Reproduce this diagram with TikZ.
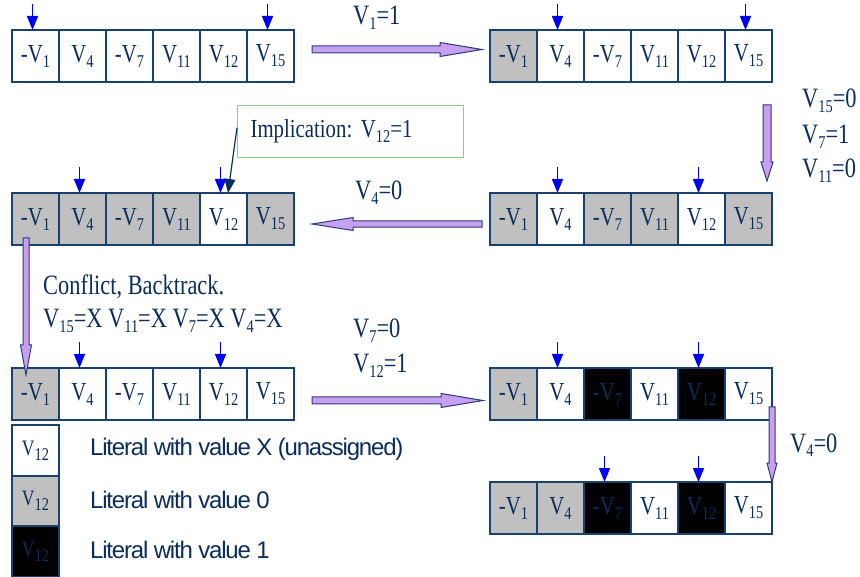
\documentclass[tikz,border=0pt]{standalone}
\usepackage{fontspec}
\setmainfont{Liberation Serif}[FakeStretch=0.8]
\newfontfamily\legendfont{Liberation Sans}[LetterSpace=-5]
\usetikzlibrary{arrows.meta,calc}

\definecolor{ink}{HTML}{0B2D5B}
\definecolor{edge}{HTML}{1A416E}
\definecolor{cellgray}{HTML}{C0C0C0}
\definecolor{cellblack}{HTML}{000000}
\definecolor{cellwhite}{HTML}{FFFFFF}
\definecolor{lavender}{HTML}{C8A0F2}
\definecolor{fatedge}{HTML}{2C3C7C}
\definecolor{pointblue}{HTML}{0000F0}
\definecolor{boxgreen}{HTML}{8CCB8C}

% literal with a lowered index
\newcommand\sbs[1]{\raisebox{-5pt}{\fontsize{18}{18}\selectfont #1}}
\newcommand\lit[1]{V\sbs{#1}}
\newcommand\cellname[1]{\ifcase#1\or -\lit{1}\or \lit{4}\or -\lit{7}\or \lit{11}\or \lit{12}\or \lit{15}\fi}

\tikzset{
  cellbox/.style={draw=edge, line width=1.2pt, minimum width=47pt, minimum height=52pt,
    inner sep=0pt, outer sep=0pt, anchor=north west, text=ink,
    font=\fontsize{26}{26}\selectfont},
  legendcell/.style={cellbox, font=\fontsize{22}{22}\selectfont},
  lbl/.style={inner sep=0pt, text=ink, font=\fontsize{28}{28}\selectfont},
  legendtxt/.style={inner sep=0pt, text=ink, font=\legendfont\fontsize{24}{24}\selectfont},
  pointer/.style={draw=pointblue, line width=1.5pt, -{Triangle[length=14pt,width=11pt]}},
  implarrow/.style={draw=ink, line width=1.2pt, -{Triangle[length=14pt,width=11pt]}},
  implbox/.style={draw=boxgreen, line width=1.2pt, anchor=north west, text=ink,
    text width=200pt, align=left, inner xsep=13pt, minimum height=52pt,
    font=\fontsize{26}{26}\selectfont},
  fatarrowstyle/.style={fill=lavender, draw=fatedge, line width=1pt, line join=miter},
  pics/fatarrow/.style n args={4}{code={
    \filldraw[fatarrowstyle] (0,-#3) -- ({#1-#2},-#3) -- ({#1-#2},-#4) -- (#1,0)
      -- ({#1-#2},#4) -- ({#1-#2},#3) -- (0,#3) -- cycle;}}
}

% one row of six literal cells: name, x, y, fills
\newcommand\litrow[4]{%
  \foreach \f [count=\i] in {#4}{%
    \node[cellbox, fill=\f] (#1\i) at ({#2+47*(\i-1)},#3) {\cellname{\i}};}}
\newcommand\pointer[1]{\draw[pointer] ([xshift=-3pt,yshift=26pt]#1.north) -- ([xshift=-3pt]#1.north);}

\begin{document}
\begin{tikzpicture}[x=1pt,y=-1pt]
\useasboundingbox (0,0) rectangle (860,577);

% rows of literals
\litrow{A}{12}{30}{cellwhite,cellwhite,cellwhite,cellwhite,cellwhite,cellwhite}
\litrow{B}{490}{30}{cellgray,cellwhite,cellwhite,cellwhite,cellwhite,cellwhite}
\litrow{C}{490}{193}{cellgray,cellwhite,cellgray,cellgray,cellwhite,cellgray}
\litrow{D}{12}{193}{cellgray,cellgray,cellgray,cellgray,cellwhite,cellgray}
\litrow{E}{12}{368}{cellgray,cellwhite,cellwhite,cellwhite,cellwhite,cellwhite}
\litrow{F}{490}{368}{cellgray,cellwhite,cellblack,cellwhite,cellblack,cellwhite}
\litrow{H}{490}{482}{cellgray,cellgray,cellblack,cellwhite,cellblack,cellwhite}

% watched literals
\pointer{A1}\pointer{A6}
\pointer{B2}\pointer{B6}
\pointer{C2}\pointer{C5}
\pointer{D2}\pointer{D5}
\pointer{E2}\pointer{E5}
\pointer{F2}\pointer{F5}
\pointer{H3}\pointer{H5}

% implication note
\node[implbox] (imp) at (237,105) {Implication:\ \lit{12}=1};
\draw[implarrow] ([yshift=4pt]imp.west) -- ([xshift=4.5pt]D5.north);

% steps between rows
\pic at (312,49.5) {fatarrow={170}{42}{3.5}{7}};
\pic[rotate=-90] at (767,105) {fatarrow={76}{19}{4}{6}};
\pic[rotate=180] at (482,224) {fatarrow={170}{41}{3.2}{6.5}};
\pic[rotate=-90] at (26,238) {fatarrow={137}{30}{3}{5.5}};
\pic at (312,400.5) {fatarrow={171}{42}{3.5}{7}};
\pic[rotate=-90] at (772,407) {fatarrow={75}{19}{3}{5}};

% step labels
\node[lbl, anchor=base west] (s1) at (353,25) {\lit{1}=1};
\node[lbl, anchor=base west] (s2a) at (802,108) {\lit{15}=0};
\node[lbl, anchor=base west] (s2b) at (802,144) {\lit{7}=1};
\node[lbl, anchor=base west] (s2c) at (802,178) {\lit{11}=0};
\node[lbl, anchor=base west] (s3) at (355,200) {\lit{4}=0};
\node[lbl, anchor=base west] (s4a) at (43,295) {Conflict, Backtrack.};
\node[lbl, anchor=base west] (s4b) at (43,328) {\lit{15}=X \lit{11}=X \lit{7}=X \lit{4}=X};
\node[lbl, anchor=base west] (s5a) at (353,338) {\lit{7}=0};
\node[lbl, anchor=base west] (s5b) at (353,373) {\lit{12}=1};
\node[lbl, anchor=base west] (s6) at (790,452) {\lit{4}=0};

% legend
\node[legendcell, fill=cellwhite, minimum height=51pt] (L1) at (12,425) {\lit{12}};
\node[legendcell, fill=cellgray, minimum height=50pt] (L2) at (12,476) {\lit{12}};
\node[legendcell, fill=cellblack, minimum height=51pt] (L3) at (12,526) {\lit{12}};
\node[legendtxt, anchor=base west] (t1) at (90,455) {Literal with value X (unassigned)};
\node[legendtxt, anchor=base west] (t2) at (90,508) {Literal with value 0};
\node[legendtxt, anchor=base west] (t3) at (90,558) {Literal with value 1};
\end{tikzpicture}
\end{document}
